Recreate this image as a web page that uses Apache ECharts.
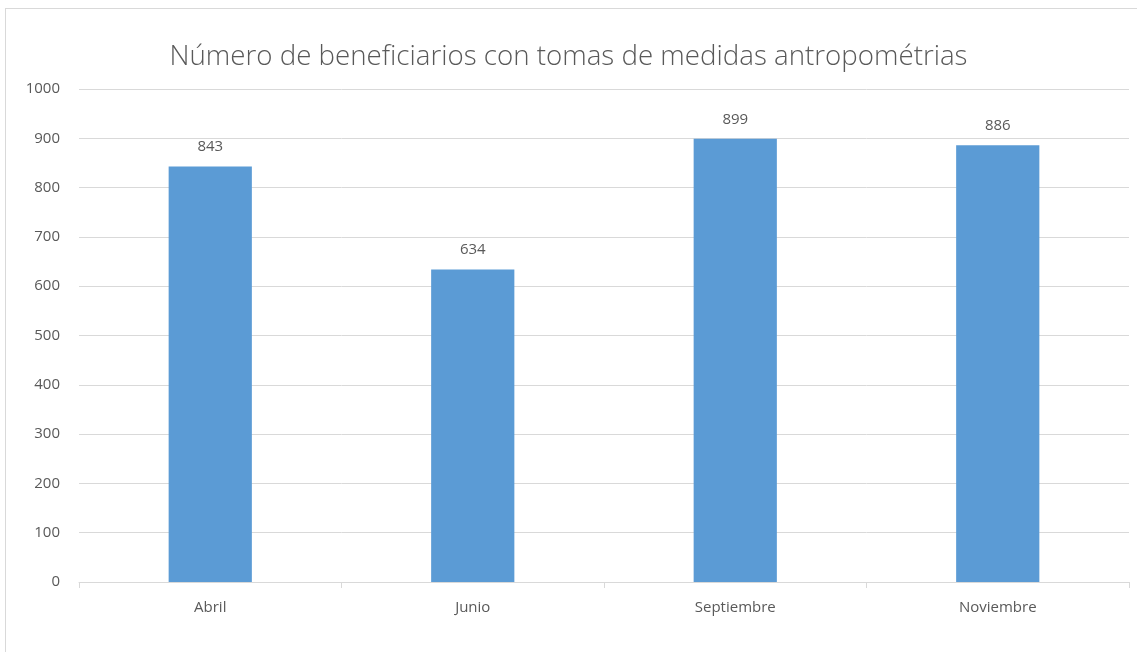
<!DOCTYPE html>
<html>
<head>
<meta charset="utf-8">
<script src="https://cdn.jsdelivr.net/npm/echarts@6/dist/echarts.min.js"></script>
<style>
  html, body { margin: 0; padding: 0; background: #fff; }
  #chart { width: 1137px; height: 652px; }
  .frame {
    position: absolute; left: 5px; top: 8px; right: 0; bottom: 0;
    border-left: 1px solid #d9d9d9; border-top: 1px solid #d9d9d9;
    pointer-events: none;
  }
</style>
</head>
<body>
<div id="chart"></div>
<div class="frame"></div>
<script>
const categories = ['Abril', 'Junio', 'Septiembre', 'Noviembre']
const beneficiarios = [843, 634, 899, 886]

const TEXT = '#595959'
const GRID = '#d9d9d9'
const BAR = '#5b9bd5'
const FONT = "'Open Sans', 'Noto Sans', sans-serif"

const chart = echarts.init(document.getElementById('chart'))
chart.setOption({
  animation: false,
  textStyle: { fontFamily: FONT },
  title: {
    text: 'Número de beneficiarios con tomas de medidas antropométrias',
    left: 'center',
    top: 38,
    textStyle: { color: TEXT, fontSize: 27.7, fontWeight: 300, fontFamily: FONT },
  },
  grid: { left: 79, right: 8, top: 89, bottom: 70 },
  xAxis: {
    type: 'category',
    data: categories,
    axisLine: { lineStyle: { color: GRID } },
    axisTick: { show: true, length: 6, lineStyle: { color: GRID } },
    axisLabel: { color: TEXT, fontSize: 15, margin: 18 },
  },
  yAxis: {
    type: 'value',
    min: 0,
    max: 1000,
    interval: 100,
    axisLine: { show: false },
    axisTick: { show: false },
    splitLine: { lineStyle: { color: GRID } },
    axisLabel: { color: TEXT, fontSize: 15, margin: 19, formatter: (v) => String(v) },
  },
  series: [{
    type: 'bar',
    data: beneficiarios,
    barWidth: '31.7%',
    itemStyle: { color: BAR },
    label: { show: true, position: 'top', distance: 12, color: TEXT, fontSize: 15 },
  }],
})
</script>
</body>
</html>
